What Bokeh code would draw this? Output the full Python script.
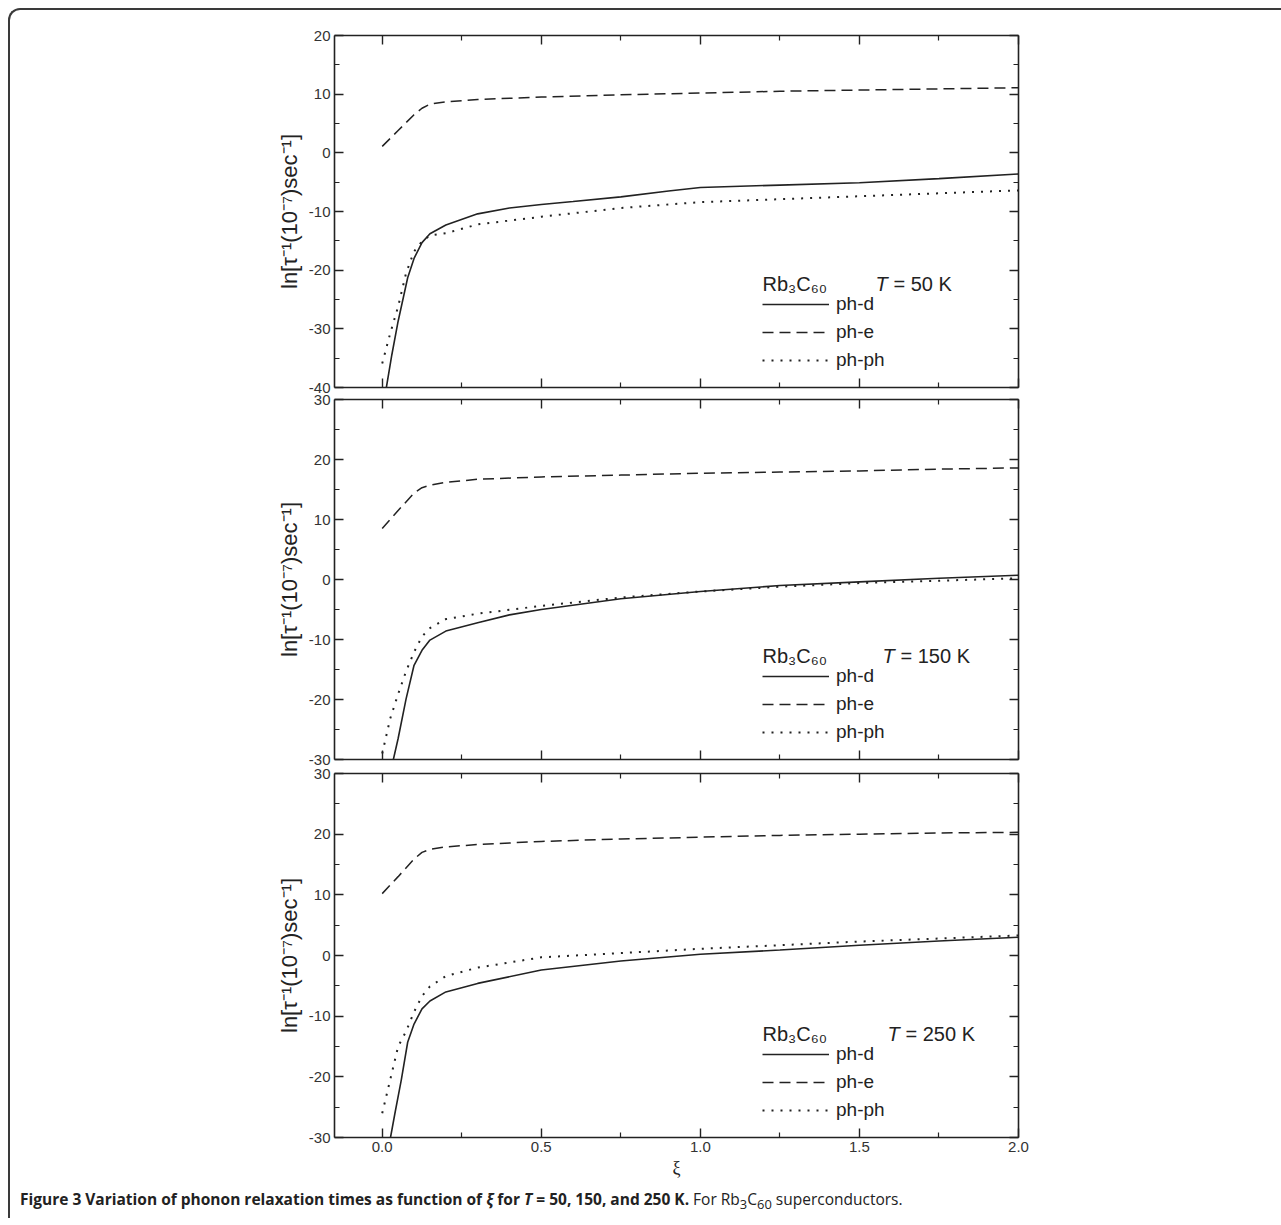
from bokeh.plotting import figure
from bokeh.models import (LinearAxis, FixedTicker, Label, Legend, LegendItem, Div,
                          Range1d, NumeralTickFormatter)
from bokeh.layouts import column
from bokeh.embed import file_html
from bokeh.resources import INLINE

# ---------------- data ----------------
# common xi grids
xi_e = [0, 0.05, 0.1, 0.125, 0.15, 0.2, 0.3, 0.5, 0.75, 1.0, 1.25, 1.5, 1.75, 2.0]
xi_p = [0, 0.025, 0.05, 0.075, 0.1, 0.125, 0.15, 0.2, 0.3, 0.5, 0.75, 1.0, 1.25, 1.5, 1.75, 2.0]

# T = 50 K
xi_d50 = [0.013, 0.03, 0.05, 0.08, 0.1, 0.125, 0.15, 0.2, 0.3, 0.4, 0.5, 0.6, 0.75, 0.9, 1.0, 1.25, 1.5, 1.75, 2.0]
phd_50 = [-40.0, -34.5, -28.7, -21.3, -18.0, -15.3, -13.8, -12.3, -10.4, -9.4, -8.8, -8.3, -7.5, -6.5, -5.9, -5.5, -5.1, -4.4, -3.6]
phe_50 = [1.1, 3.8, 6.5, 7.6, 8.3, 8.7, 9.1, 9.5, 9.9, 10.2, 10.5, 10.7, 10.9, 11.1]
php_50 = [-35.9, -30.8, -26.2, -20.5, -16.8, -15.1, -14.1, -13.7, -12.2, -10.9, -9.4, -8.4, -7.9, -7.4, -6.9, -6.4]

# T = 150 K
xi_d150 = [0.035, 0.05, 0.075, 0.1, 0.125, 0.15, 0.2, 0.3, 0.4, 0.5, 0.75, 1.0, 1.25, 1.5, 1.75, 2.0]
phd_150 = [-30.0, -26.5, -19.9, -14.3, -11.8, -10.1, -8.6, -7.2, -5.9, -5.0, -3.2, -2.0, -1.0, -0.4, 0.2, 0.7]
phe_150 = [8.5, 11.5, 14.4, 15.3, 15.7, 16.2, 16.7, 17.1, 17.4, 17.7, 17.9, 18.1, 18.4, 18.6]
php_150 = [-29.0, -23.2, -19.1, -15.3, -12.1, -9.5, -8.1, -6.6, -5.7, -4.4, -3.0, -2.0, -1.2, -0.6, -0.2, 0.2]

# T = 250 K
xi_d250 = [0.026, 0.04, 0.06, 0.08, 0.1, 0.125, 0.15, 0.2, 0.3, 0.5, 0.75, 1.0, 1.25, 1.5, 1.75, 2.0]
phd_250 = [-30.0, -26.0, -20.5, -14.3, -11.3, -8.8, -7.5, -6.0, -4.6, -2.4, -0.9, 0.2, 0.9, 1.7, 2.4, 3.0]
phe_250 = [10.2, 13.0, 15.9, 17.0, 17.5, 17.9, 18.3, 18.8, 19.2, 19.5, 19.8, 20.0, 20.2, 20.3]
php_250 = [-26.0, -20.5, -15.0, -12.5, -9.3, -6.7, -5.1, -3.4, -2.0, -0.3, 0.4, 1.1, 1.7, 2.3, 2.8, 3.3]

temps = ["50", "150", "250"]
x_major = [0.0, 0.5, 1.0, 1.5, 2.0]
x_minor = [0.25, 0.75, 1.25, 1.75]
y_major_top = [-40, -30, -20, -10, 0, 10, 20]
y_minor_top = [-35, -25, -15, -5, 5, 15]
y_major = [-30, -20, -10, 0, 10, 20, 30]
y_minor = [-25, -15, -5, 5, 15, 25]
legend_labels = ["ph-d", "ph-e", "ph-ph"]
y_label = "ln[τ⁻¹(10⁻⁷)sec⁻¹]"
x_label = "ξ"

# ---------------- styling ----------------
FONT = "Liberation Sans"
INK = "#222222"


def style_axis(ax, ticks, minor, labels):
    ax.ticker = FixedTicker(ticks=ticks, minor_ticks=minor)
    ax.axis_line_color = INK
    ax.axis_line_width = 1.6
    ax.major_tick_line_color = INK
    ax.major_tick_line_width = 1.4
    ax.minor_tick_line_color = INK
    ax.minor_tick_line_width = 1.2
    ax.major_tick_in = 9
    ax.major_tick_out = 0
    ax.minor_tick_in = 5
    ax.minor_tick_out = 0
    if labels:
        ax.major_label_text_font = FONT
        ax.major_label_text_font_size = "15px"
        ax.major_label_text_color = "#333333"
        ax.major_label_standoff = 4
    else:
        ax.major_label_text_color = None
        ax.major_label_text_font_size = "1px"
        ax.major_label_standoff = 0


def panel(T, yr, ymaj, ymin, xd, yd, ye, yp, fh, top_b, bot_b, show_x, t_x, overlap):
    p = figure(frame_width=684, frame_height=fh,
               x_range=Range1d(-0.15, 2.0), y_range=Range1d(*yr),
               x_axis_type=None, y_axis_type=None,
               output_backend="svg", toolbar_location=None,
               min_border_left=324, min_border_right=263,
               min_border_top=top_b, min_border_bottom=bot_b,
               margin=(-overlap, 0, 0, 0))
    p.outline_line_color = None
    p.background_fill_color = "white"
    p.border_fill_color = None

    bottom = LinearAxis()
    style_axis(bottom, x_major, x_minor, show_x)
    if show_x:
        bottom.formatter = NumeralTickFormatter(format="0.0")
        bottom.axis_label = x_label
        bottom.axis_label_text_font = "Liberation Serif"
        bottom.axis_label_text_font_size = "18px"
        bottom.axis_label_text_font_style = "normal"
        bottom.axis_label_text_color = INK
        bottom.axis_label_standoff = 3
    p.add_layout(bottom, "below")
    top = LinearAxis()
    style_axis(top, x_major, x_minor, False)
    p.add_layout(top, "above")

    left = LinearAxis()
    style_axis(left, ymaj, ymin, True)
    left.formatter = NumeralTickFormatter(format="0")
    left.axis_label = y_label
    left.axis_label_text_font = FONT
    left.axis_label_text_font_size = "22px"
    left.axis_label_text_font_style = "normal"
    left.axis_label_text_color = INK
    left.axis_label_standoff = 4
    p.add_layout(left, "left")
    right = LinearAxis()
    style_axis(right, ymaj, ymin, False)
    p.add_layout(right, "right")

    r_d = p.line(xd, yd, line_color=INK, line_width=1.6)
    r_e = p.line(xi_e, ye, line_color=INK, line_width=1.5, line_dash="11 6")
    r_p = p.line(xi_p, yp, line_color=INK, line_width=2.0, line_dash="2 7")

    leg = Legend(items=[LegendItem(label=legend_labels[0], renderers=[r_d]),
                        LegendItem(label=legend_labels[1], renderers=[r_e]),
                        LegendItem(label=legend_labels[2], renderers=[r_p])],
                 location=(428, 16), orientation="vertical",
                 glyph_width=67, glyph_height=20, label_height=20,
                 spacing=6, padding=0, margin=0, label_standoff=7,
                 border_line_color=None, background_fill_alpha=0,
                 label_text_font=FONT, label_text_font_size="19px",
                 label_text_color=INK)
    p.add_layout(leg)

    p.add_layout(Label(x=428, y=104, x_units="screen", y_units="screen",
                       text="Rb₃C₆₀", text_font=FONT, text_font_size="20px",
                       text_baseline="middle", text_color=INK))
    p.add_layout(Label(x=t_x, y=104, x_units="screen", y_units="screen",
                       text="T", text_font=FONT, text_font_size="20px",
                       text_font_style="italic",
                       text_baseline="middle", text_color=INK))
    p.add_layout(Label(x=t_x + 18, y=104, x_units="screen", y_units="screen",
                       text="= " + T + " K", text_font=FONT, text_font_size="20px",
                       text_baseline="middle", text_color=INK))
    return p


p1 = panel(temps[0], (-40, 20), y_major_top, y_minor_top, xi_d50, phd_50, phe_50, php_50,
           352, 25, 16, False, 541, 0)
p2 = panel(temps[1], (-30, 30), y_major, y_minor, xi_d150, phd_150, phe_150, php_150,
           360, 16, 17, False, 548, 20)
p3 = panel(temps[2], (-30, 30), y_major, y_minor, xi_d250, phd_250, phe_250, php_250,
           364, 17, 47, True, 553, 20)

caption = Div(text=('<b>Figure 3 Variation of phonon relaxation times as function of '
                    '<i>ξ</i> for <i>T</i> = 50, 150, and 250 K.</b> '
                    'For Rb<sub>3</sub>C<sub>60</sub> superconductors.'),
              width=1271, height=24,
              styles={"font-family": "'Open Sans', sans-serif", "font-size": "15.5px",
                      "color": "#222222", "padding-left": "5px", "line-height": "20px"})

layout = column(p1, p2, p3, caption, spacing=0, margin=(8, 0, 0, 8),
                styles={"border-top": "2px solid #3a3a3a", "border-left": "2px solid #3a3a3a",
                        "border-top-left-radius": "12px"})

open("out.html", "w").write(file_html(layout, INLINE))
